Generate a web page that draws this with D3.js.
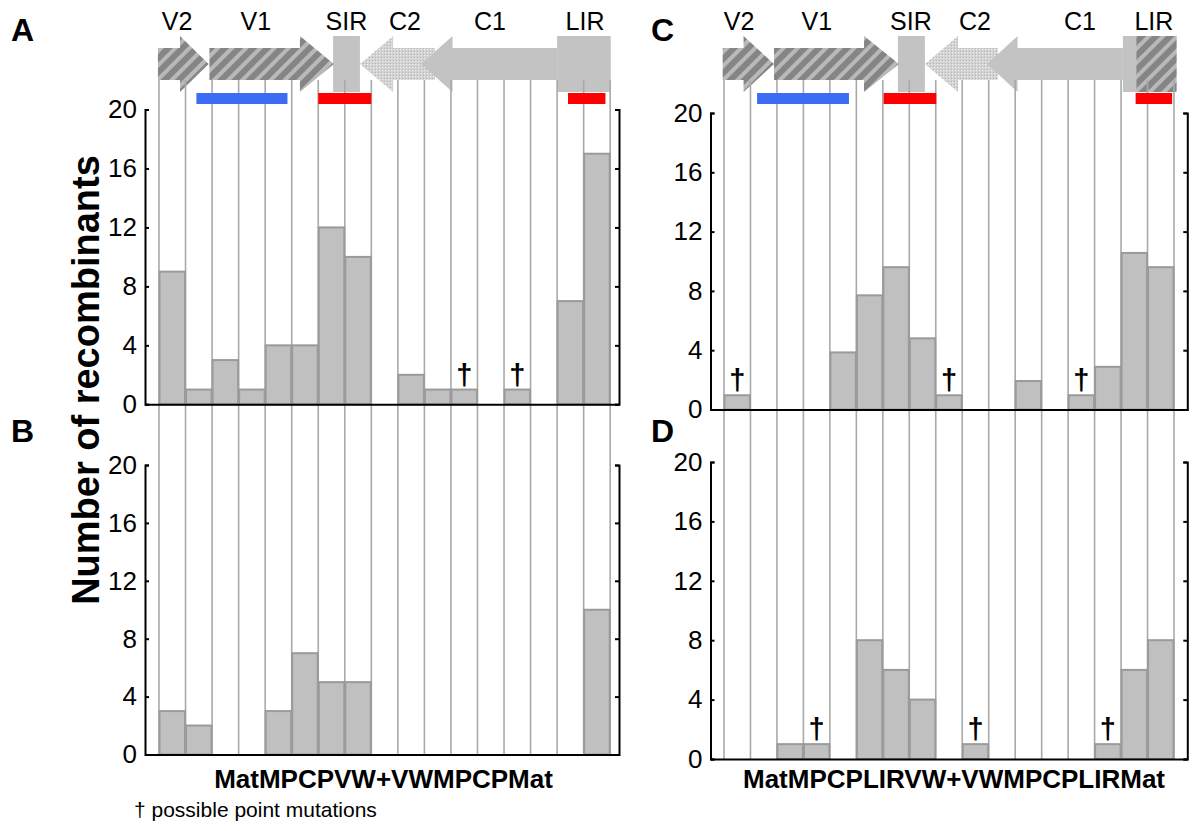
<!DOCTYPE html>
<html><head><meta charset="utf-8">
<script src="https://cdn.jsdelivr.net/npm/d3@7"></script>
<style>
body{margin:0;background:#fff}
svg{display:block}
text{font-family:Arial,"Liberation Sans",sans-serif}
</style>
</head><body>
<svg id="chart" width="1200" height="831"></svg>
<script>
// ---------- data ----------
const columns = [1,2,3,4,5,6,7,8,9,10,11,12,13,14,15,16,17];
const yTicks = [0,4,8,12,16,20];
const panelA = [9,1,3,1,4,4,12,10,0,2,1,1,0,1,0,7,17];
const markA  = [0,0,0,0,0,0,0,0,0,0,0,1,0,1,0,0,0];
const panelB = [3,2,0,0,3,7,5,5,0,0,0,0,0,0,0,0,10];
const markB  = [0,0,0,0,0,0,0,0,0,0,0,0,0,0,0,0,0];
const panelC = [0.96,0,0,0,3.85,7.7,9.6,4.8,0.96,0,0,1.92,0,0.96,2.88,10.56,9.6];
const markC  = [1,0,0,0,0,0,0,0,1,0,0,0,0,1,0,0,0];
const panelD = [0,0,1,1,0,8,6,4,0,1,0,0,0,0,1,6,8];
const markD  = [0,0,0,1,0,0,0,0,0,1,0,0,0,0,1,0,0];
const xLabelLeft = "MatMPCPVW+VWMPCPMat";
const xLabelRight = "MatMPCPLIRVW+VWMPCPLIRMat";
const yTitle = "Number of recombinants";
const footnote = "\u2020 possible point mutations";
const geneNames = ["V2","V1","SIR","C2","C1","LIR"];

// ---------- layout ----------
const svg = d3.select("#chart");
const defs = svg.append("defs");
const hatch = defs.append("pattern").attr("id","hatch").attr("patternUnits","userSpaceOnUse")
  .attr("width",10).attr("height",10).attr("patternTransform","rotate(45)");
hatch.append("rect").attr("width",10).attr("height",10).attr("fill","#b9b9b9");
hatch.append("rect").attr("width",6).attr("height",10).attr("fill","#858585");
const dots = defs.append("pattern").attr("id","dots").attr("patternUnits","userSpaceOnUse")
  .attr("width",3).attr("height",3);
dots.append("rect").attr("width",3).attr("height",3).attr("fill","#d3d3d3");
dots.append("rect").attr("x",1).attr("y",1).attr("width",1).attr("height",1).attr("fill","#f0f0f0");
dots.append("rect").attr("x",0).attr("y",0).attr("width",1).attr("height",1).attr("fill","#b5b5b5");

const SOLID = "#c3c3c3";
const G = {labelY:30, headTop:36, bodyTop:48, bodyBot:80, headBot:92, barTop:93, barBot:104, lineTop:80};

const sides = [
  { colL:159, colR:610.2, axisL:145, axisR:619, xLabel:xLabelLeft, xLabelX:383.5,
    genes:{ labels:[0.68,3.65,7.06,9.27,12.47,16.05],
      v2:[-0.04,0.79,1.87], v1:[1.9,5.31,6.59], sir:[6.56,7.57],
      c2:[10.4,8.82,7.57], c1:[15.0,11.06,9.87], lirSolid:[15.0,17.02], lirHatch:null,
      blue:[1.41,4.84], red:[[6.0,8.0],[15.41,16.82]] },
    panels:[
      {name:"A", data:panelA, marks:markA, y0:404.3, y20:109.5, labelY:41},
      {name:"B", data:panelB, marks:markB, y0:754.5, y20:465, labelY:442}
    ], labelX:11 },
  { colL:724, colR:1174, axisL:710.5, axisR:1187.3, xLabel:xLabelRight, xLabelX:954,
    genes:{ labels:[0.57,3.51,7.06,9.48,13.45,16.24],
      v2:[-0.05,0.74,1.89], v1:[1.89,5.29,6.61], sir:[6.57,7.59],
      c2:[10.35,8.84,7.59], c1:[15.07,11.09,9.94], lirSolid:[15.07,15.6], lirHatch:[15.58,17.1],
      blue:[1.25,4.72], red:[[6.03,8.02],[15.55,16.93]] },
    panels:[
      {name:"C", data:panelC, marks:markC, y0:409.5, y20:113, labelY:41},
      {name:"D", data:panelD, marks:markD, y0:759, y20:462, labelY:442}
    ], labelX:651 }
];

function rightArrow(u, a){ // a = [start, headStart, tip]
  const [s,h,t] = a.map(u);
  const mid = (G.headTop+G.headBot)/2;
  return `M${s},${G.bodyTop}H${h}V${G.headTop}L${t},${mid}L${h},${G.headBot}V${G.bodyBot}H${s}Z`;
}
function leftArrow(u, a){ // a = [end(right), headStart, tip(left)]
  const [e,h,t] = a.map(u);
  const mid = (G.headTop+G.headBot)/2;
  return `M${e},${G.bodyTop}H${h}V${G.headTop}L${t},${mid}L${h},${G.headBot}V${G.bodyBot}H${e}Z`;
}

sides.forEach(side => {
  const g = svg.append("g");
  const x = d3.scaleBand().domain(columns).range([side.colL, side.colR]).paddingInner(0).paddingOuter(0);
  const u = d3.scaleLinear().domain([0, columns.length]).range([side.colL, side.colR]);
  const gm = side.genes;

  // gene map shapes
  const shapes = g.append("g");
  shapes.append("path").attr("d", leftArrow(u, gm.c2)).attr("fill","url(#dots)");
  shapes.append("path").attr("d", leftArrow(u, gm.c1)).attr("fill",SOLID);
  shapes.append("rect").attr("x",u(gm.sir[0])).attr("width",u(gm.sir[1])-u(gm.sir[0]))
    .attr("y",G.headTop).attr("height",G.headBot-G.headTop).attr("fill",SOLID);
  shapes.append("rect").attr("x",u(gm.lirSolid[0])).attr("width",u(gm.lirSolid[1])-u(gm.lirSolid[0]))
    .attr("y",G.headTop).attr("height",G.headBot-G.headTop).attr("fill",SOLID);
  if (gm.lirHatch) {
    shapes.append("rect").attr("x",u(gm.lirHatch[0])).attr("width",u(gm.lirHatch[1])-u(gm.lirHatch[0]))
      .attr("y",G.headTop).attr("height",G.headBot-G.headTop).attr("fill","url(#hatch)");
  }
  shapes.append("path").attr("d", rightArrow(u, gm.v2)).attr("fill","url(#hatch)");
  shapes.append("path").attr("d", rightArrow(u, gm.v1)).attr("fill","url(#hatch)");

  g.append("g").selectAll("text").data(geneNames).join("text")
    .attr("x",(d,i)=>u(gm.labels[i])).attr("y",G.labelY)
    .attr("text-anchor","middle").attr("font-size",25).attr("fill","#000").text(d=>d);

  // column grid lines
  const bottom = side.panels[side.panels.length-1].y0;
  const bounds = columns.map(c => x(c)).concat([x(columns[columns.length-1]) + x.bandwidth()]);
  g.append("g").selectAll("line").data(bounds).join("line")
    .attr("x1",d=>d).attr("x2",d=>d).attr("y1",G.lineTop).attr("y2",bottom)
    .attr("stroke","#a9a9a9").attr("stroke-width",1.6);

  // region bars
  g.append("rect").attr("x",u(gm.blue[0])).attr("width",u(gm.blue[1])-u(gm.blue[0]))
    .attr("y",G.barTop).attr("height",G.barBot-G.barTop).attr("fill","#3b6cf3");
  gm.red.forEach(r => {
    g.append("rect").attr("x",u(r[0])).attr("width",u(r[1])-u(r[0]))
      .attr("y",G.barTop).attr("height",G.barBot-G.barTop).attr("fill","#ff0000");
  });

  side.panels.forEach(p => {
    const y = d3.scaleLinear().domain([0,20]).range([p.y0, p.y20]);
    const rows = columns.map((c,i) => ({c, v:p.data[i], m:p.marks[i]}));
    g.append("g").selectAll("rect").data(rows.filter(r=>r.v>0)).join("rect")
      .attr("x",d=>x(d.c)+0.5).attr("width",x.bandwidth()-1)
      .attr("y",d=>y(d.v)).attr("height",d=>y(0)-y(d.v))
      .attr("fill","#c0c0c0").attr("stroke","#9a9a9a").attr("stroke-width",2);

    g.append("g").selectAll("text").data(rows.filter(r=>r.m)).join("text")
      .attr("x",d=>x(d.c)+x.bandwidth()/2).attr("y",d=>y(d.v)-5)
      .attr("text-anchor","middle").attr("font-size",29).attr("font-weight","bold")
      .attr("fill","#000").text("\u2020");

    // axes
    const left = d3.axisLeft(y).tickValues(yTicks).tickSizeInner(-4).tickSizeOuter(-4).tickPadding(8);
    const ga = g.append("g").attr("transform",`translate(${side.axisL},0)`).call(left);
    ga.selectAll("text").attr("font-size",26).attr("font-family","Arial, 'Liberation Sans', sans-serif").attr("fill","#000");
    ga.selectAll("path,line").attr("stroke","#000").attr("stroke-width",2);

    const right = d3.axisRight(y).tickValues(yTicks).tickSizeInner(-4).tickSizeOuter(-4).tickFormat("");
    const gr = g.append("g").attr("transform",`translate(${side.axisR},0)`).call(right);
    gr.selectAll("path,line").attr("stroke","#000").attr("stroke-width",2);

    const xb = d3.scaleLinear().domain([0,1]).range([side.axisL, side.axisR]);
    const bottomAxis = d3.axisBottom(xb).tickValues([]).tickSizeOuter(0);
    const gb = g.append("g").attr("transform",`translate(0,${p.y0})`).call(bottomAxis);
    gb.selectAll("path").attr("stroke","#000").attr("stroke-width",2);

    svg.append("text").attr("x",side.labelX).attr("y",p.labelY)
      .attr("font-size",32).attr("font-weight","bold").attr("fill","#000").text(p.name);
  });

  svg.append("text").attr("x",side.xLabelX).attr("y",788).attr("text-anchor","middle")
    .attr("font-size",26).attr("font-weight","bold").attr("fill","#000").text(side.xLabel);
});

svg.append("text").attr("transform","translate(99,380) rotate(-90)").attr("text-anchor","middle")
  .attr("font-size",38).attr("font-weight","bold").attr("fill","#000").text(yTitle);

svg.append("text").attr("x",134).attr("y",817).attr("font-size",21).attr("fill","#000").text(footnote);
</script>
</body></html>
